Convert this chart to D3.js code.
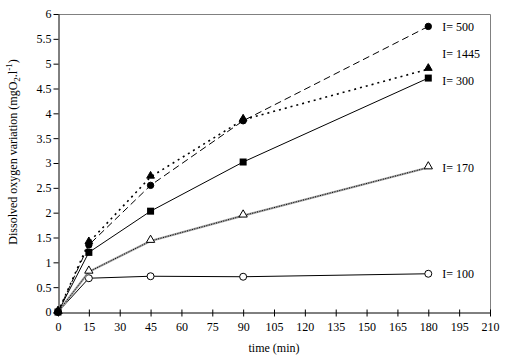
<!DOCTYPE html>
<html>
<head>
<meta charset="utf-8">
<script src="https://cdn.jsdelivr.net/npm/d3@7"></script>
<style>
  body { margin: 0; background: #fff; }
</style>
</head>
<body>
<div id="chart"></div>
<script>
// Data
const times = [0, 15, 45, 90, 180];
const xTicks = [0, 15, 30, 45, 60, 75, 90, 105, 120, 135, 150, 165, 180, 195, 210];
const yTicks = [0, 0.5, 1, 1.5, 2, 2.5, 3, 3.5, 4, 4.5, 5, 5.5, 6];
const seriesNames = ["I= 100", "I= 170", "I= 500", "I= 1445", "I= 300"];
const i100  = [0, 0.68, 0.72, 0.71, 0.77];
const i170  = [0, 0.81, 1.43, 1.94, 2.91];
const i500  = [0, 1.35, 2.55, 3.85, 5.75];
const i1445 = [0, 1.40, 2.72, 3.87, 4.89];
const i300  = [0, 1.20, 2.03, 3.02, 4.71];
const seriesValues = [i100, i170, i500, i1445, i300];

// Styles for each series (same order as above)
const styles = [
    {marker: "circle",   fill: "#fff", stroke: "#000", width: 1,   dash: null,  labelDy: 0},
    {marker: "triangle", fill: "#fff", stroke: "#7a7a7a", width: 2.5, dash: null, labelDy: 0, hatch: true},
    {marker: "circle",   fill: "#000", stroke: "#000", width: 1,   dash: "7,4", labelDy: 0, small: true},
    {marker: "triangle", fill: "#000", stroke: "#000", width: 1.6, dash: "2,4", labelDy: -15},
    {marker: "square",   fill: "#000", stroke: "#000", width: 1,   dash: null,  labelDy: 3}
];

const W = 513, H = 363;
const margin = {left: 58, right: 490, top: 14, bottom: 312};
const FONT = "'Liberation Serif', 'Times New Roman', Times, serif";

const svg = d3.select("#chart").append("svg")
    .attr("width", W)
    .attr("height", H)
    .style("font-family", FONT)
    .style("font-size", "12px");

const x = d3.scaleLinear().domain([0, 210]).range([margin.left, margin.right]);
const y = d3.scaleLinear().domain([0, 6]).range([margin.bottom, margin.top]);

// plot frame (top and right in grey)
svg.append("path")
    .attr("d", `M${margin.left},${margin.top + 0.5}H${margin.right + 0.5}V${margin.bottom}`)
    .attr("fill", "none")
    .attr("stroke", "#808080")
    .attr("stroke-width", 1);

// x axis
const xAxis = svg.append("g")
    .attr("transform", `translate(0,${margin.bottom + 0.5})`)
    .call(d3.axisBottom(x).tickValues(xTicks).tickSizeInner(4).tickSizeOuter(0).tickPadding(6));
xAxis.attr("font-family", null).attr("font-size", null);
xAxis.selectAll(".tick line").attr("y1", -3).attr("stroke", "#000");
xAxis.select(".domain").attr("stroke", "#000");
xAxis.selectAll("text").attr("fill", "#000");

// y axis
const yAxis = svg.append("g")
    .attr("transform", `translate(${margin.left + 0.5},0)`)
    .call(d3.axisLeft(y).tickValues(yTicks).tickFormat(d3.format("~g"))
        .tickSizeInner(5).tickSizeOuter(0).tickPadding(2));
yAxis.attr("font-family", null).attr("font-size", null);
yAxis.select(".domain").attr("stroke", "#000");
yAxis.selectAll(".tick line").attr("stroke", "#000");
yAxis.selectAll("text").attr("fill", "#000");

// axis titles
svg.append("text")
    .attr("x", (margin.left + margin.right) / 2)
    .attr("y", 352)
    .attr("text-anchor", "middle")
    .text("time (min)");

const ylab = svg.append("text")
    .attr("transform", "translate(17,152) rotate(-90)")
    .attr("text-anchor", "middle");
ylab.append("tspan").text("Dissolved oxygen variation (mgO");
ylab.append("tspan").attr("dy", 3).style("font-size", "9px").text("2");
ylab.append("tspan").attr("dy", -3).text(".l");
ylab.append("tspan").attr("dy", -5).style("font-size", "9px").text("-1");
ylab.append("tspan").attr("dy", 5).text(")");

const line = d3.line()
    .x(d => x(d[0]))
    .y(d => y(d[1]));

const tri = d3.symbol().type(d3.symbolTriangle);

seriesValues.forEach(function(vals, i) {
    const st = styles[i];
    const pts = times.map((t, k) => [t, vals[k]]);

    if (st.hatch) {
        svg.append("path")
            .datum(pts)
            .attr("fill", "none")
            .attr("stroke", "#a0a0a0")
            .attr("stroke-width", 2.2)
            .attr("d", line);
        svg.append("path")
            .datum(pts)
            .attr("fill", "none")
            .attr("stroke", "#000")
            .attr("stroke-width", 1)
            .attr("stroke-dasharray", "1,1.5")
            .attr("d", line);
    } else {
        svg.append("path")
            .datum(pts)
            .attr("fill", "none")
            .attr("stroke", st.stroke)
            .attr("stroke-width", st.width)
            .attr("stroke-dasharray", st.dash)
            .attr("d", line);
    }

    const g = svg.append("g");
    pts.forEach(function(p) {
        const cx = x(p[0]), cy = y(p[1]);
        if (st.marker === "circle") {
            g.append("circle")
                .attr("cx", cx).attr("cy", cy)
                .attr("r", st.small ? 3.2 : 3.5)
                .attr("fill", st.fill)
                .attr("stroke", "#000")
                .attr("stroke-width", 1);
        } else if (st.marker === "square") {
            g.append("rect")
                .attr("x", cx - 3.5).attr("y", cy - 3.5)
                .attr("width", 7).attr("height", 7)
                .attr("fill", st.fill);
        } else {
            g.append("path")
                .attr("d", tri.size(st.fill === "#000" ? 26 : 30)())
                .attr("transform", `translate(${cx},${cy - 1})`)
                .attr("fill", st.fill)
                .attr("stroke", "#000")
                .attr("stroke-width", 1);
        }
    });

    // end label
    svg.append("text")
        .attr("x", x(180) + 14)
        .attr("y", y(vals[vals.length - 1]) + st.labelDy)
        .attr("dy", "0.35em")
        .text(seriesNames[i]);
});
</script>
</body>
</html>
